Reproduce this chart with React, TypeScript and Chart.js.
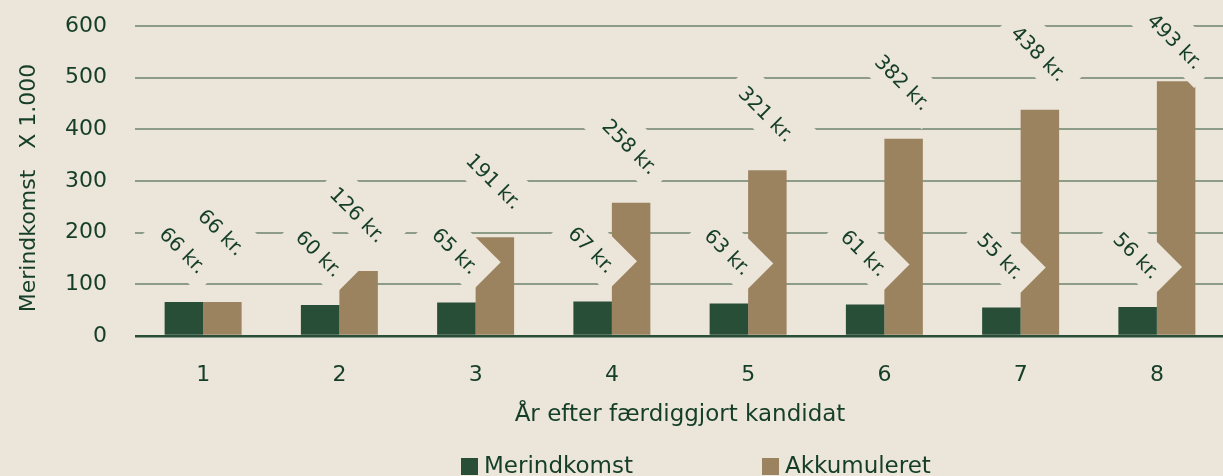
import React, { useEffect, useRef } from "react";
import { Chart, registerables } from "chart.js";

Chart.register(...registerables);

// ---- data ----
const categories = ["1", "2", "3", "4", "5", "6", "7", "8"];
const merindkomst = [66, 60, 65, 67, 63, 61, 55, 56];
const akkumuleret = [66, 126, 191, 258, 321, 382, 438, 493];
const yTicks = [0, 100, 200, 300, 400, 500, 600];
const seriesNames = ["Merindkomst", "Akkumuleret"];
const xTitle = "År efter færdiggjort kandidat";
const yTitle = "Merindkomst   X 1.000  ";
const unit = "kr.";

// ---- styles ----
const BG = "#ece5da";
const GREEN = "#294e38";
const TAN = "#9c8360";
const TEXT = "#143e28";
const GRID = "#8c9c87";
const FONT = "'DejaVu Sans', sans-serif";
const W = 1226;
const H = 490;

const labelPlugin = {
  id: "rotLabels",
  afterDatasetsDraw(chart: any) {
    const ctx = chart.ctx;
    const fs = 20;
    ctx.save();
    ctx.font = `${fs}px ${FONT}`;
    const items: any[] = [];
    const greenY: number[] = [];
    chart.data.datasets.forEach((ds: any, di: number) => {
      const meta = chart.getDatasetMeta(di);
      meta.data.forEach((el: any, i: number) => {
        const text = `${ds.data[i]} ${unit}`;
        const w = ctx.measureText(text).width;
        const a = w / 2 + 12;
        const bTop = 25.5;
        const bBottom = 18;
        let cy = el.y - 4 - (a + bTop) / Math.SQRT2;
        if (di === 1 && greenY[i] !== undefined) cy = Math.min(cy, greenY[i] - 18);
        const minCy = 11 + (w + fs) / (2 * Math.SQRT2);
        cy = Math.max(cy, minCy);
        if (di === 0) greenY[i] = cy;
        items.push({ x: el.x - 2, y: cy, a, bTop, bBottom, text });
      });
    });
    ctx.fillStyle = BG;
    for (const it of items) {
      ctx.save();
      ctx.translate(it.x, it.y);
      ctx.rotate(Math.PI / 4);
      ctx.fillRect(-it.a, -it.bTop, 2 * it.a, it.bTop + it.bBottom);
      ctx.restore();
    }
    ctx.fillStyle = TEXT;
    ctx.textAlign = "center";
    ctx.textBaseline = "middle";
    for (const it of items) {
      ctx.save();
      ctx.translate(it.x, it.y);
      ctx.rotate(Math.PI / 4);
      ctx.fillText(it.text, 0, 0);
      ctx.restore();
    }
    ctx.restore();
  },
};

const legendPlugin = {
  id: "customLegend",
  afterDraw(chart: any) {
    const ctx = chart.ctx;
    const colors = [GREEN, TAN];
    const startX = 461;
    const step = 301;
    const boxY = 458;
    const box = 17;
    ctx.save();
    ctx.font = `23px ${FONT}`;
    ctx.textBaseline = "middle";
    ctx.textAlign = "left";
    seriesNames.forEach((name, i) => {
      const x = startX + i * step;
      ctx.fillStyle = colors[i];
      ctx.fillRect(x, boxY, box, box);
      ctx.fillStyle = TEXT;
      ctx.fillText(name, x + box + 6, boxY + box / 2 + 1);
    });
    ctx.restore();
  },
};

export default function App() {
  const ref = useRef<HTMLCanvasElement | null>(null);

  useEffect(() => {
    if (!ref.current) return;
    const chart = new Chart(ref.current, {
      type: "bar",
      data: {
        labels: categories,
        datasets: [
          {
            label: seriesNames[0],
            data: merindkomst,
            backgroundColor: GREEN,
            barPercentage: 1,
            categoryPercentage: 0.565,
          },
          {
            label: seriesNames[1],
            data: akkumuleret,
            backgroundColor: TAN,
            barPercentage: 1,
            categoryPercentage: 0.565,
          },
        ],
      },
      options: {
        responsive: false,
        animation: false,
        layout: { padding: { top: 26, right: 1, bottom: 44, left: 0 } },
        plugins: {
          legend: { display: false },
          tooltip: { enabled: false },
        },
        scales: {
          x: {
            grid: { display: false, drawTicks: false },
            border: { display: false },
            ticks: {
              color: TEXT,
              font: { family: FONT, size: 22 },
              padding: 26,
            },
            title: {
              display: true,
              text: xTitle,
              color: TEXT,
              font: { family: FONT, size: 23 },
              padding: { top: 0, bottom: 17 },
            },
            afterFit: (s: any) => {
              s.height = 110;
              s.paddingLeft = 0;
              s.paddingRight = 0;
            },
          },
          y: {
            min: 0,
            max: 600,
            afterBuildTicks: (s: any) => {
              s.ticks = yTicks.map((v) => ({ value: v }));
            },
            ticks: {
              color: TEXT,
              font: { family: FONT, size: 22 },
              padding: 28,
            },
            grid: {
              drawTicks: false,
              color: (c: any) => (c.tick && c.tick.value === 0 ? GREEN : GRID),
              lineWidth: (c: any) => (c.tick && c.tick.value === 0 ? 2.5 : 2),
            },
            border: { display: false },
            title: {
              display: true,
              text: yTitle,
              color: TEXT,
              font: { family: FONT, size: 22 },
              padding: { top: 16, bottom: 0 },
            },
            afterFit: (s: any) => {
              s.width = 135;
              s.paddingTop = 0;
              s.paddingBottom = 0;
            },
          },
        },
      },
      plugins: [labelPlugin, legendPlugin],
    } as any);
    return () => chart.destroy();
  }, []);

  return (
    <div
      style={{
        position: "fixed",
        left: 0,
        top: 0,
        width: 1223,
        height: 476,
        overflow: "hidden",
        background: BG,
      }}
    >
      <canvas ref={ref} width={W} height={H} style={{ display: "block", width: W, height: H }} />
    </div>
  );
}
